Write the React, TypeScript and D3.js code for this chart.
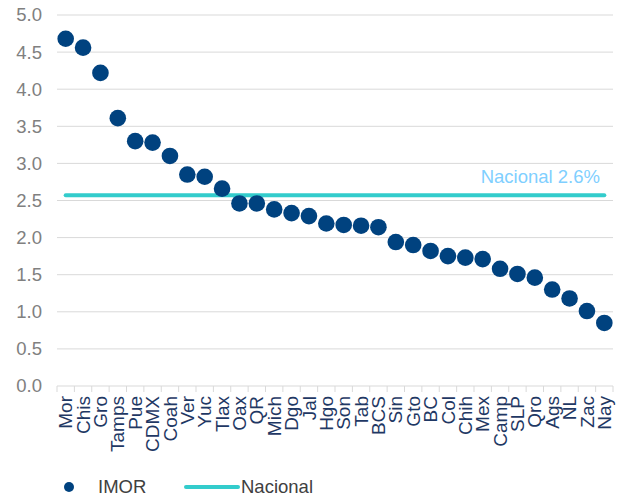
import React from "react";
import * as d3 from "d3";

const states = ["Mor","Chis","Gro","Tamps","Pue","CDMX","Coah","Ver","Yuc","Tlax","Oax","QR","Mich","Dgo","Jal","Hgo","Son","Tab","BCS","Sin","Gto","BC","Col","Chih","Mex","Camp","SLP","Qro","Ags","NL","Zac","Nay"];
const imor = [4.68,4.56,4.22,3.61,3.30,3.28,3.10,2.85,2.82,2.66,2.46,2.46,2.38,2.33,2.29,2.19,2.17,2.16,2.14,1.94,1.90,1.82,1.75,1.73,1.71,1.58,1.51,1.46,1.30,1.18,1.01,0.85];
const nacional = 2.57;
const yTicks = [0,0.5,1,1.5,2,2.5,3,3.5,4,4.5,5];

export default function App() {
  const W = 620, H = 500;
  const left = 57, right = 613, top = 15, bottom = 386;
  const x = d3.scaleBand<string>().domain(states).range([left, right]);
  const y = d3.scaleLinear().domain([0, 5]).range([bottom, top]);
  const font = "'Liberation Sans', Arial, sans-serif";
  const fs = 18.5;
  const first = x(states[0])! + x.bandwidth() / 2;
  const last = x(states[states.length - 1])! + x.bandwidth() / 2;
  const boundaries = states.map((s) => x(s)!).concat([right]);
  return (
    <svg width={W} height={H} style={{ position: "absolute", left: 0, top: 0 }} fontFamily={font}>
      <rect width={W} height={H} fill="#fff" />
      {yTicks.map((t) => (
        <g key={t}>
          {t > 0 && <line x1={left} x2={right} y1={y(t)} y2={y(t)} stroke="#D9D9D9" strokeWidth={1} />}
          <text x={42} y={y(t)} dy="0.35em" textAnchor="end" fontSize={fs} fill="#808080">{t.toFixed(1)}</text>
        </g>
      ))}
      <line x1={left} x2={right} y1={bottom} y2={bottom} stroke="#D9D9D9" strokeWidth={1} />
      {boundaries.map((b, i) => (
        <line key={i} x1={b} x2={b} y1={bottom} y2={bottom + 6} stroke="#D9D9D9" strokeWidth={1} />
      ))}
      {states.map((s) => (
        <text key={s} transform={`translate(${x(s)! + x.bandwidth() / 2},${bottom + 10}) rotate(-90)`} dy="0.35em" textAnchor="end" fontSize={19} fill="#1F3864">{s}</text>
      ))}
      <line x1={first} x2={last} y1={y(nacional)} y2={y(nacional)} stroke="#33CCCC" strokeWidth={4} strokeLinecap="round" />
      <text x={600} y={y(nacional) - 12} textAnchor="end" fontSize={fs} fill="#7FCFFF">Nacional 2.6%</text>
      {states.map((s, i) => (
        <circle key={s} cx={x(s)! + x.bandwidth() / 2} cy={y(imor[i])} r={8.3} fill="#00427F" />
      ))}
      <circle cx={69} cy={487} r={5} fill="#00427F" />
      <text x={98} y={487} dy="0.35em" fontSize={fs} fill="#404040">IMOR</text>
      <line x1={186} x2={238} y1={487} y2={487} stroke="#33CCCC" strokeWidth={4} strokeLinecap="round" />
      <text x={241} y={487} dy="0.35em" fontSize={fs} fill="#404040">Nacional</text>
    </svg>
  );
}
